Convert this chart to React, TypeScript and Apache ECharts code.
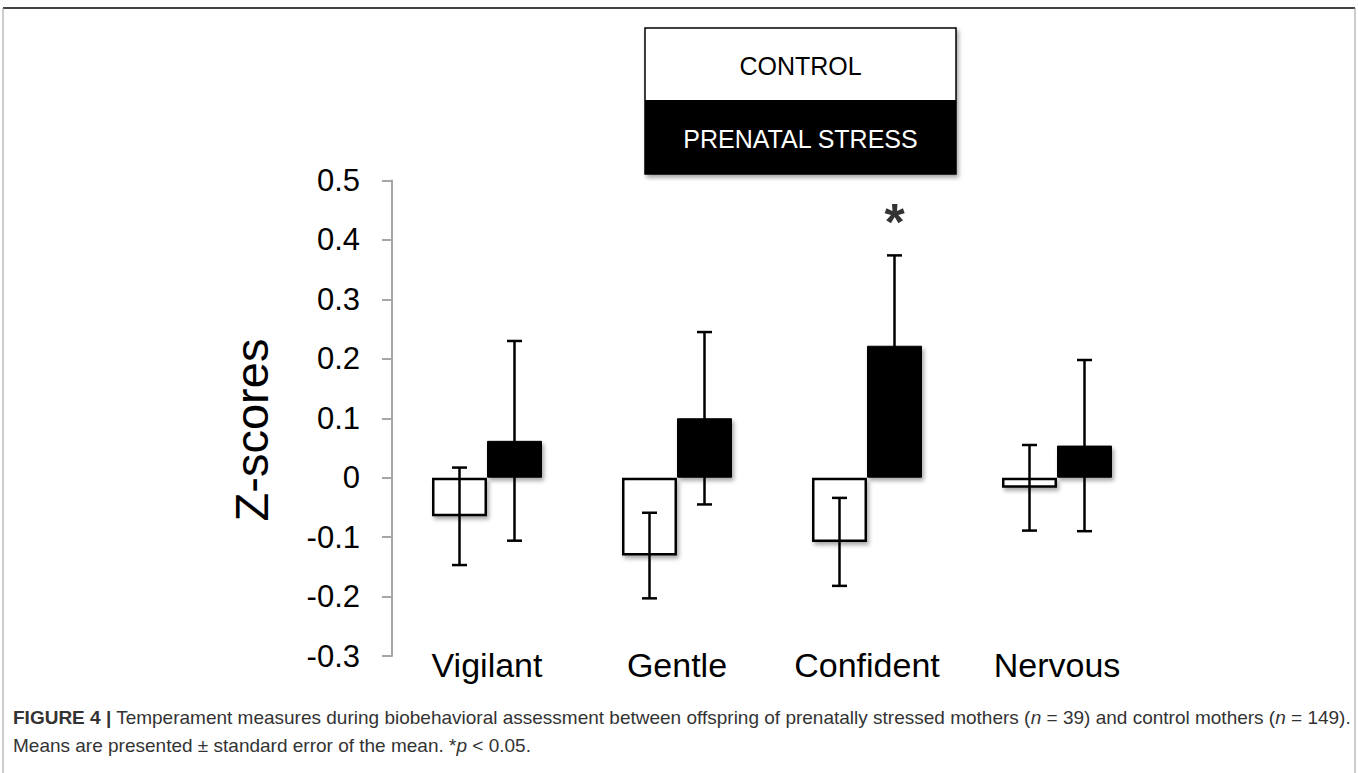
import React, { useEffect, useRef } from 'react';
import * as echarts from 'echarts';

const categories = ['Vigilant', 'Gentle', 'Confident', 'Nervous'];
const seriesNames = ['CONTROL', 'PRENATAL STRESS'];
const controlMeans = [-0.065, -0.131, -0.108, -0.017];
const controlSE = [0.082, 0.072, 0.074, 0.072];
const stressMeans = [0.062, 0.1, 0.222, 0.054];
const stressSE = [0.168, 0.145, 0.152, 0.144];
const significance = ['', '', '*', ''];
const significanceLevel = 0.43;
const yMin = -0.3;
const yMax = 0.5;
const yStep = 0.1;
const yAxisTitle = 'Z-scores';
const captionLine1 =
  '{b|FIGURE 4 |} Temperament measures during biobehavioral assessment between offspring of prenatally stressed mothers ({i|n} = 39) and control mothers ({i|n} = 149).';
const captionLine2 = 'Means are presented ± standard error of the mean. *{i|p} < 0.05.';

const BAR_W = 55;
const FONT = '"Liberation Sans", Arial, Helvetica, sans-serif';
const CAP_FONT = 19;

function errorSeries(means: number[], se: number[], side: number) {
  return {
    type: 'custom',
    z: 10,
    silent: true,
    renderItem: (params: any, api: any) => {
      const i = api.value(0);
      const lo = api.coord([i, api.value(1)]);
      const hi = api.coord([i, api.value(2)]);
      const x = lo[0] + (side * BAR_W) / 2;
      const cap = 7.5;
      const st = { stroke: '#000', lineWidth: 2.5 };
      return {
        type: 'group',
        children: [
          { type: 'line', shape: { x1: x, y1: lo[1], x2: x, y2: hi[1] }, style: st },
          { type: 'line', shape: { x1: x - cap, y1: lo[1], x2: x + cap, y2: lo[1] }, style: st },
          { type: 'line', shape: { x1: x - cap, y1: hi[1], x2: x + cap, y2: hi[1] }, style: st },
        ],
      };
    },
    encode: { x: 0, y: [1, 2] },
    data: means.map((m, i) => [i, m - se[i], m + se[i]]),
  };
}

export default function App() {
  const ref = useRef<HTMLDivElement>(null);
  useEffect(() => {
    if (!ref.current) return;
    const chart = echarts.init(ref.current, undefined, { renderer: 'svg' });
    const shadow = {
      shadowBlur: 4,
      shadowColor: 'rgba(0,0,0,0.35)',
      shadowOffsetX: 2,
      shadowOffsetY: 3,
    };
    chart.setOption({
      animation: false,
      backgroundColor: '#fff',
      textStyle: { fontFamily: FONT },
      grid: { left: 392, right: 206, top: 180.5, bottom: 117, containLabel: false },
      xAxis: {
        type: 'category',
        data: categories,
        axisLine: { show: false },
        axisTick: { show: false },
        axisLabel: { color: '#000', fontSize: 34, margin: -8, fontFamily: FONT, verticalAlign: 'top' },
      },
      yAxis: {
        type: 'value',
        min: yMin,
        max: yMax,
        interval: yStep,
        splitLine: { show: false },
        axisLine: { show: true, lineStyle: { color: '#a6a6a6', width: 2 } },
        axisTick: { show: true, length: 10, lineStyle: { color: '#a6a6a6', width: 2 } },
        axisLabel: {
          color: '#000',
          fontSize: 31,
          margin: 32,
          fontFamily: FONT,
          formatter: (v: number) => (Math.abs(v) < 1e-9 ? '0' : v.toFixed(1)),
        },
      },
      graphic: [
        { type: 'line', shape: { x1: 3, y1: 8, x2: 1355, y2: 8 }, style: { stroke: '#444', lineWidth: 2 } },
        { type: 'line', shape: { x1: 3, y1: 8, x2: 3, y2: 773 }, style: { stroke: '#999', lineWidth: 1 } },
        { type: 'line', shape: { x1: 1355, y1: 8, x2: 1355, y2: 773 }, style: { stroke: '#999', lineWidth: 1 } },
        {
          type: 'rect',
          shape: { x: 645, y: 28, width: 311, height: 146 },
          style: { fill: '#fff', stroke: '#000', lineWidth: 1.5, ...shadow },
        },
        {
          type: 'rect',
          shape: { x: 645, y: 100, width: 311, height: 74 },
          style: { fill: '#000' },
        },
        {
          type: 'text',
          x: 800.5,
          y: 66,
          style: { text: seriesNames[0], fill: '#000', font: `25px ${FONT}`, align: 'center', verticalAlign: 'middle' },
        },
        {
          type: 'text',
          x: 800.5,
          y: 139,
          style: { text: seriesNames[1], fill: '#fff', font: `25px ${FONT}`, align: 'center', verticalAlign: 'middle' },
        },
        {
          type: 'text',
          x: 251,
          y: 430,
          rotation: Math.PI / 2,
          style: { text: yAxisTitle, fill: '#000', font: `47px ${FONT}`, align: 'center', verticalAlign: 'middle' },
        },
        {
          type: 'text',
          x: 13,
          y: 717,
          style: {
            text: captionLine1,
            fill: '#333',
            font: `${CAP_FONT}px ${FONT}`,
            verticalAlign: 'middle',
            rich: {
              b: { fontWeight: 'bold', fontSize: CAP_FONT, fontFamily: FONT, fill: '#333' },
              i: { fontStyle: 'italic', fontSize: CAP_FONT, fontFamily: FONT, fill: '#333' },
            },
          },
        },
        {
          type: 'text',
          x: 13,
          y: 745,
          style: {
            text: captionLine2,
            fill: '#333',
            font: `${CAP_FONT}px ${FONT}`,
            verticalAlign: 'middle',
            rich: {
              i: { fontStyle: 'italic', fontSize: CAP_FONT, fontFamily: FONT, fill: '#333' },
            },
          },
        },
      ],
      series: [
        {
          name: seriesNames[0],
          type: 'bar',
          barWidth: BAR_W,
          barGap: '0%',
          data: controlMeans,
          itemStyle: { color: '#fff', borderColor: '#000', borderWidth: 2.5, ...shadow },
        },
        {
          name: seriesNames[1],
          type: 'bar',
          barWidth: BAR_W,
          barGap: '0%',
          data: stressMeans,
          itemStyle: { color: '#000', borderColor: '#000', borderWidth: 1, ...shadow },
        },
        errorSeries(controlMeans, controlSE, -1),
        errorSeries(stressMeans, stressSE, 1),
        {
          type: 'scatter',
          symbolSize: 0,
          silent: true,
          z: 11,
          data: significance
            .map((s, i) => (s ? { value: [i, significanceLevel], label: { formatter: s } } : null))
            .filter((d) => d !== null),
          label: {
            show: true,
            position: 'inside',
            offset: [BAR_W / 2, 0],
            fontSize: 52,
            fontWeight: 'bold',
            color: '#000',
            fontFamily: FONT,
          },
        },
      ],
    });
    return () => chart.dispose();
  }, []);
  return <div ref={ref} style={{ position: 'absolute', left: 0, top: 0, width: 1358, height: 773 }} />;
}
